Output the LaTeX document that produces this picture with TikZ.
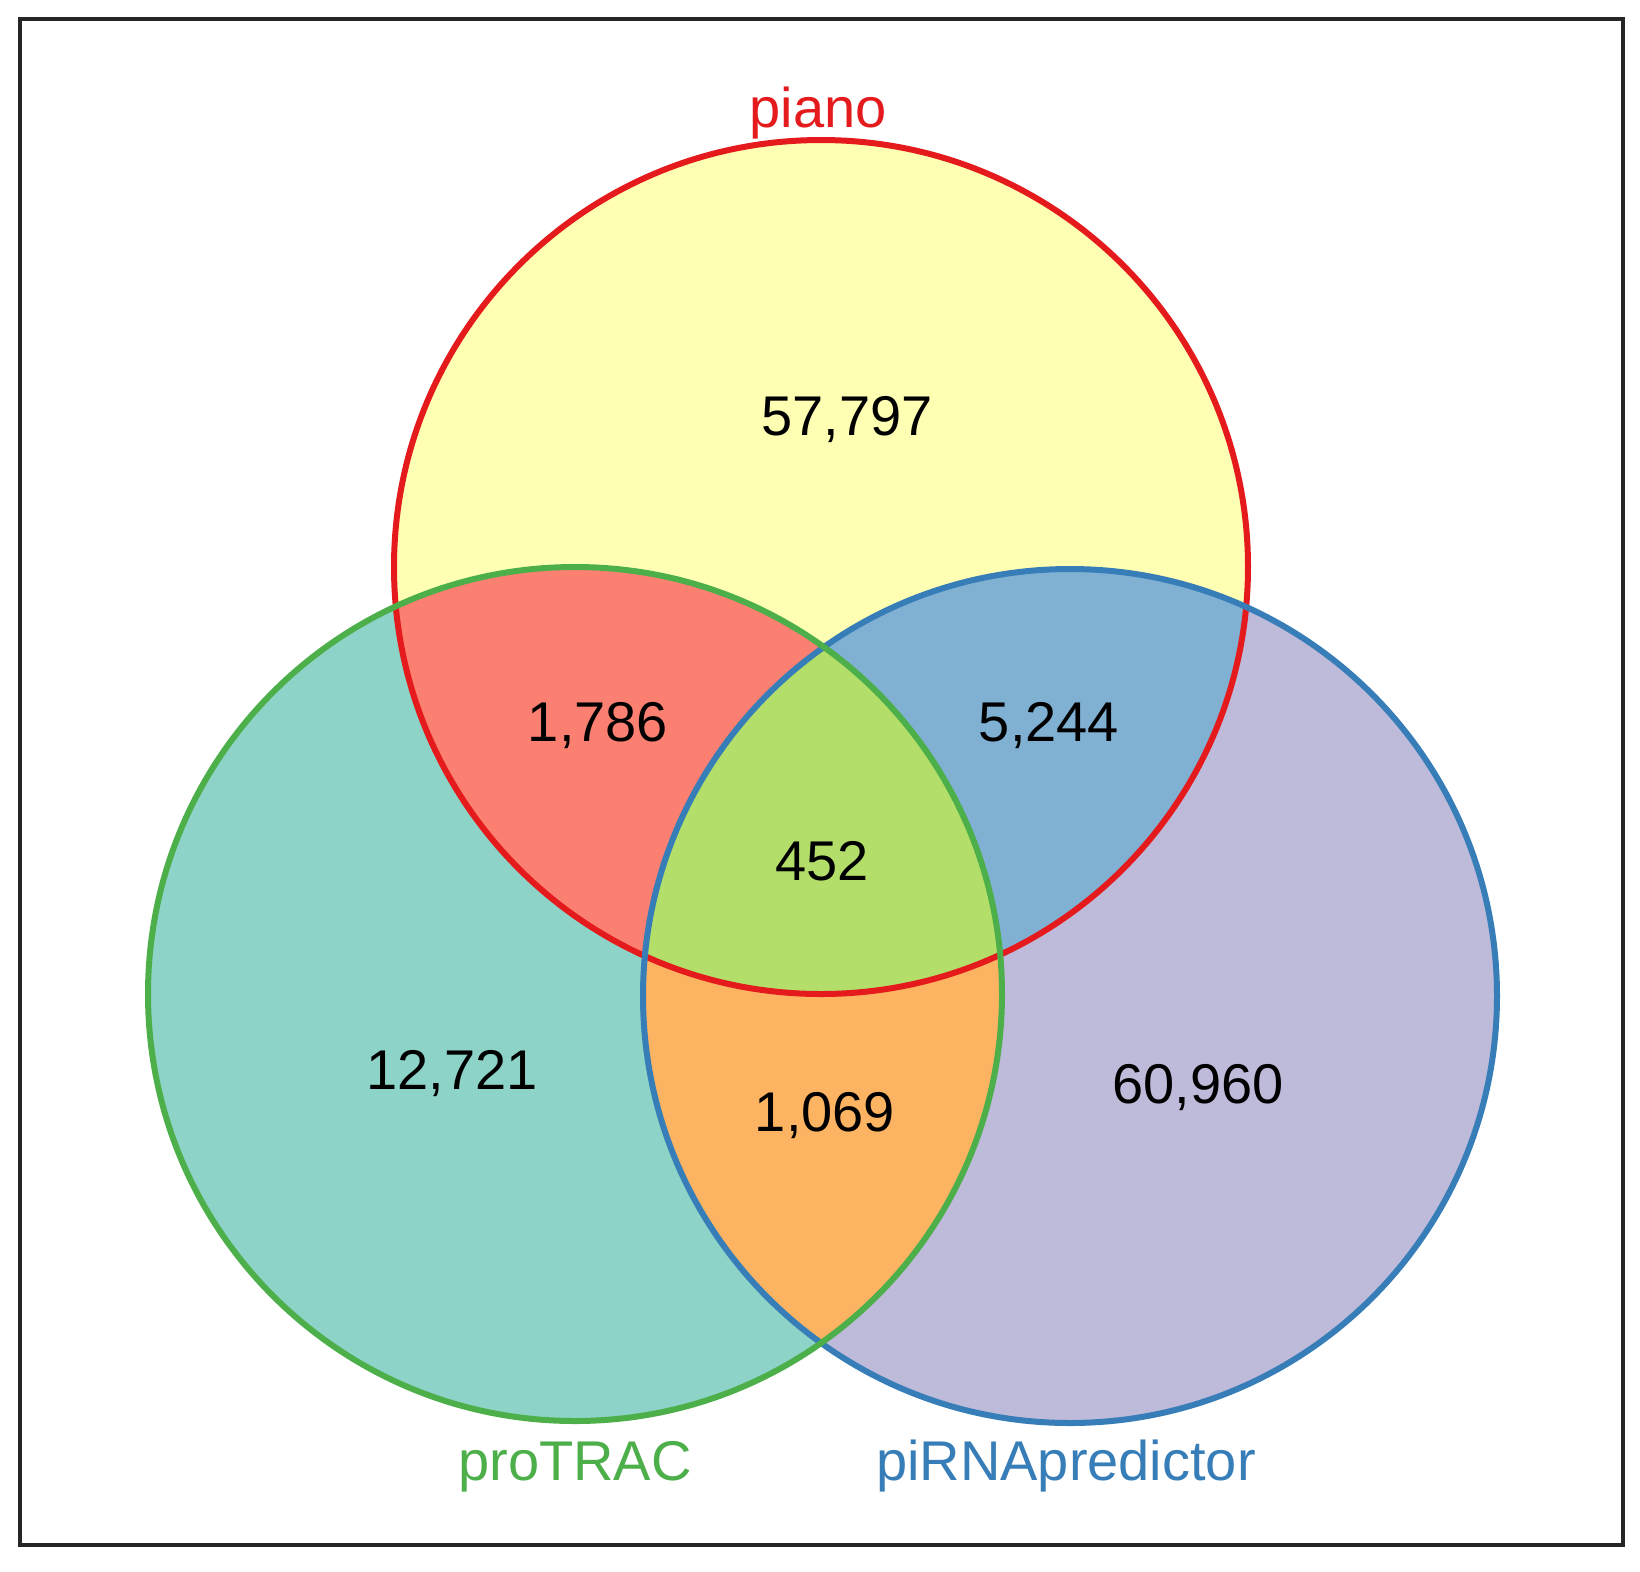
\documentclass[tikz,border=0pt]{standalone}
\usepackage{fontspec}
\setmainfont{Liberation Sans}
\definecolor{cTonly}{HTML}{FFFFB3}
\definecolor{cLonly}{HTML}{8DD3C7}
\definecolor{cRonly}{HTML}{BEBADA}
\definecolor{cTL}{HTML}{FB8072}
\definecolor{cTR}{HTML}{80B1D3}
\definecolor{cLR}{HTML}{FDB462}
\definecolor{cTLR}{HTML}{B3DE69}
\definecolor{lineT}{HTML}{E41A1C}
\definecolor{lineL}{HTML}{4DAF4A}
\definecolor{lineR}{HTML}{377EB8}
\begin{document}
\begin{tikzpicture}[x=0.5pt,y=-0.5pt,
  num/.style={font=\fontsize{28pt}{30pt}\selectfont, text=black, anchor=base, inner sep=0pt},
  setlabel/.style={font=\fontsize{28pt}{30pt}\selectfont, anchor=base, inner sep=0pt},
  ring/.style={line width=3pt}]
\useasboundingbox (0,0) rectangle (1640,1571);
\fill[white] (0,0) rectangle (1640,1571);
\coordinate (T) at (821,567);
\coordinate (L) at (575,994);
\coordinate (R) at (1070,996);
\def\rad{213.5pt}
% single-set fills
\fill[cLonly] (L) circle[radius=\rad];
\fill[cRonly] (R) circle[radius=\rad];
\fill[cTonly] (T) circle[radius=\rad];
% pairwise
\begin{scope}
  \clip (T) circle[radius=\rad];
  \fill[cTL] (L) circle[radius=\rad];
  \fill[cTR] (R) circle[radius=\rad];
\end{scope}
\begin{scope}
  \clip (L) circle[radius=\rad];
  \fill[cLR] (R) circle[radius=\rad];
  \clip (R) circle[radius=\rad];
  \fill[cTLR] (T) circle[radius=\rad];
\end{scope}
% outlines
\draw[ring, lineT] (T) circle[radius=\rad];
\draw[ring, lineR] (R) circle[radius=\rad];
\draw[ring, lineL] (L) circle[radius=\rad];
% frame
\draw[line width=1.8pt, black!85] (20,19) rectangle (1623,1545);
% counts
\node[num] (nT) at (847,435) {57,797};
\node[num] (nTL) at (598,741) {1,786};
\node[num] (nTR) at (1049,741) {5,244};
\node[num] (nTLR) at (822,880) {452};
\node[num] (nL) at (452,1089) {12,721};
\node[num] (nR) at (1198,1103) {60,960};
\node[num] (nLR) at (825,1131) {1,069};
% set labels
\node[setlabel, text=lineT] (labT) at (818,127) {piano};
\node[setlabel, text=lineL] (labL) at (575,1480) {proTRAC};
\node[setlabel, text=lineR] (labR) at (1066,1480) {piRNApredictor};
\end{tikzpicture}
\end{document}
